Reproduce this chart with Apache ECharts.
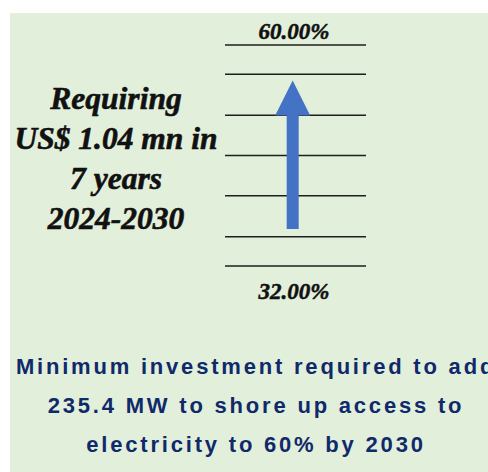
<!DOCTYPE html>
<html>
<head>
<meta charset="utf-8">
<script src="https://cdn.jsdelivr.net/npm/echarts@6/dist/echarts.min.js"></script>
<style>
html,body{margin:0;padding:0;background:#ffffff;}
#chart{width:488px;height:472px;}
</style>
</head>
<body>
<div id="chart"></div>
<script>
// ---- data ----
const lineLevels = [60, 56.3, 51.1, 46.0, 40.9, 35.7, 32];
const axisMin = 32;
const axisMax = 60;
const arrowFrom = 36.7;
const arrowTo = 55.5;
const arrowX = 0.48;
const topLabel = '60.00%';
const bottomLabel = '32.00%';
const leftText = ['Requiring', 'US$ 1.04 mn in', '7 years', '2024-2030'];
const noteText = ['Minimum investment required to add', '235.4 MW to shore up access to', 'electricity to 60% by 2030'];

const chart = echarts.init(document.getElementById('chart'), null, {renderer: 'svg'});

const serif = '"Liberation Serif", "Times New Roman", serif';
const sans = '"Liberation Sans", Arial, sans-serif';

const graphics = [
  {type: 'rect', silent: true, z: -10, shape: {x: 10, y: 13, width: 478, height: 459}, style: {fill: '#e2efda'}},
  {type: 'text', x: 294, y: 31, style: {text: topLabel, font: 'italic bold 23px ' + serif, fill: '#111', stroke: '#111', lineWidth: 0.5, textAlign: 'center', textVerticalAlign: 'middle'}},
  {type: 'text', x: 294, y: 291, style: {text: bottomLabel, font: 'italic bold 23px ' + serif, fill: '#111', stroke: '#111', lineWidth: 0.5, textAlign: 'center', textVerticalAlign: 'middle'}}
];
leftText.forEach((t, i) => {
  graphics.push({type: 'text', x: 116, y: 98 + i * 40, style: {text: t, font: 'italic bold 31.5px ' + serif, fill: '#111', stroke: '#111', lineWidth: 0.6, textAlign: 'center', textVerticalAlign: 'middle'}});
});
noteText.forEach((t, i) => {
  graphics.push({type: 'text', x: 256, y: 366 + i * 39, style: {text: t, font: 'bold 22px ' + sans, fill: '#10296b', textAlign: 'center', textVerticalAlign: 'middle'}});
});

chart.setOption({
  animation: false,
  backgroundColor: 'transparent',
  grid: {left: 225, right: 122, top: 45, bottom: 206},
  xAxis: {type: 'value', min: 0, max: 1, show: false},
  yAxis: {type: 'value', min: axisMin, max: axisMax, show: false},
  graphic: graphics,
  series: [
    {
      type: 'custom',
      data: lineLevels.map(v => [v]),
      renderItem: function (params, api) {
        const v = api.value(0);
        const p1 = api.coord([0, v]);
        const p2 = api.coord([1, v]);
        return {type: 'line', shape: {x1: p1[0], y1: p1[1], x2: p2[0], y2: p2[1]}, style: {stroke: '#1e1e1e', lineWidth: 1.6}};
      }
    },
    {
      type: 'custom',
      z: 5,
      data: [[arrowX, arrowFrom, arrowTo]],
      renderItem: function (params, api) {
        const b = api.coord([api.value(0), api.value(1)]);
        const t = api.coord([api.value(0), api.value(2)]);
        const x = b[0];
        const sw = 6, hw = 17.5, hl = 35;
        const hb = t[1] + hl;
        return {
          type: 'polygon',
          shape: {points: [[x - sw, b[1]], [x - sw, hb], [x - hw, hb], [x, t[1]], [x + hw, hb], [x + sw, hb], [x + sw, b[1]]]},
          style: {fill: '#4472c4'}
        };
      }
    }
  ]
});

function spaceNotes() {
  document.querySelectorAll('#chart svg text').forEach(el => {
    if (noteText.indexOf(el.textContent) >= 0) {
      el.style.letterSpacing = '2.8px';
    }
  });
}
spaceNotes();
chart.on('finished', spaceNotes);
</script>
</body>
</html>
